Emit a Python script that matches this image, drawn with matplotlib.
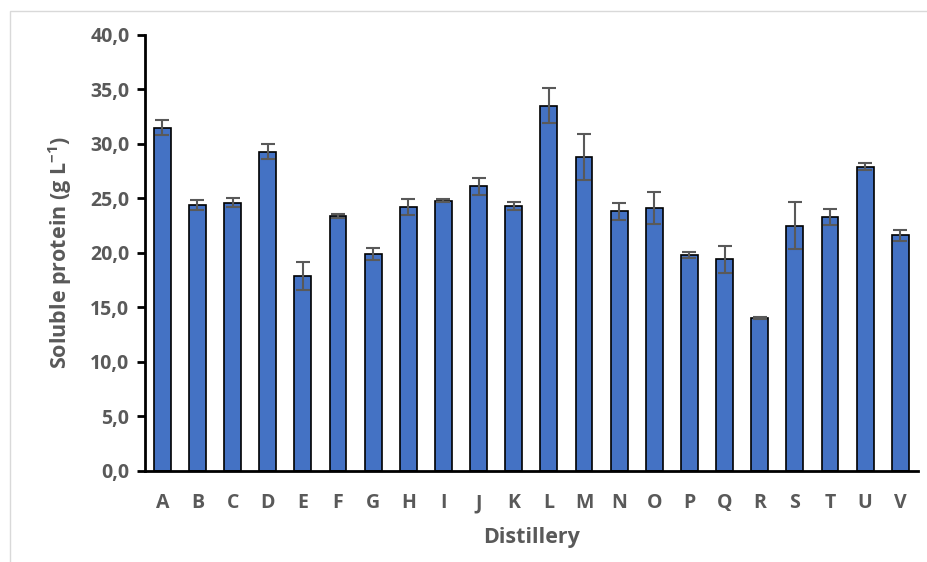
import matplotlib.pyplot as plt
import numpy as np
from matplotlib.patches import Rectangle

# distilleries and soluble protein (g/L)
distillery = ['A', 'B', 'C', 'D', 'E', 'F', 'G', 'H', 'I', 'J', 'K',
              'L', 'M', 'N', 'O', 'P', 'Q', 'R', 'S', 'T', 'U', 'V']
protein = [31.5, 24.4, 24.6, 29.3, 17.9, 23.4, 19.9, 24.2, 24.8, 26.1, 24.3,
           33.5, 28.8, 23.8, 24.1, 19.8, 19.4, 14.0, 22.5, 23.3, 27.9, 21.6]
protein_err = [0.7, 0.45, 0.4, 0.7, 1.3, 0.2, 0.55, 0.7, 0.15, 0.8, 0.35,
               1.6, 2.15, 0.75, 1.45, 0.25, 1.2, 0.1, 2.15, 0.7, 0.3, 0.5]
yticks = [0, 5, 10, 15, 20, 25, 30, 35, 40]

plt.rcParams['font.family'] = ['Open Sans', 'DejaVu Sans']
plt.rcParams['mathtext.fontset'] = 'custom'
plt.rcParams['mathtext.rm'] = 'Open Sans'
plt.rcParams['mathtext.bf'] = 'Open Sans:bold'
grey = '#595959'

fig = plt.figure(figsize=(9.28, 5.62), dpi=100)
ax = fig.add_axes([0.156, 0.162, 0.833, 0.776])

x = np.arange(len(distillery))
ax.bar(x, protein, width=0.48, color='#4472C4', edgecolor='black', linewidth=1.2,
       yerr=protein_err, error_kw=dict(ecolor=grey, elinewidth=1.5, capsize=5, capthick=1.5))

ax.set_xlim(-0.5, len(distillery) - 0.5)
ax.set_ylim(0, 40)
ax.set_yticks(yticks)
ax.yaxis.set_major_formatter(plt.FuncFormatter(lambda v, p: ('%.1f' % v).replace('.', ',')))
ax.set_xticks(x)
ax.set_xticklabels(distillery)

for s in ['top', 'right']:
    ax.spines[s].set_visible(False)
for s in ['left', 'bottom']:
    ax.spines[s].set_linewidth(2)
ax.tick_params(axis='y', length=6, width=2, colors='black', labelcolor=grey, labelsize=14, pad=5)
ax.tick_params(axis='x', length=0, labelcolor=grey, labelsize=14, pad=16)
for lab in ax.get_xticklabels() + ax.get_yticklabels():
    lab.set_fontweight('bold')

ax.set_ylabel('Soluble protein (g L$^{\\mathbf{-1}}$)', fontsize=15.5, fontweight='bold', color=grey, labelpad=12)
ax.set_xlabel('Distillery', fontsize=15.5, fontweight='bold', color=grey, labelpad=10)

# light frame around the chart area
fig.patches.append(Rectangle((0.011, -0.01), 1.0, 0.99, transform=fig.transFigure,
                             fill=False, edgecolor='#d9d9d9', linewidth=1))

fig.savefig('out.png', dpi=100)
